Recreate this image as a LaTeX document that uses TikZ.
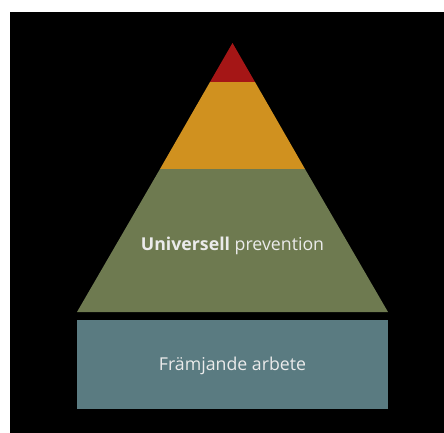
\documentclass[tikz,border=0pt]{standalone}
\usepackage{fontspec}
\setmainfont{Open Sans}
\usepackage{xcolor}
\usepackage{tikz}
\usetikzlibrary{positioning}

\definecolor{toppred}{HTML}{A51616}
\definecolor{midorange}{HTML}{D0911F}
\definecolor{baseolive}{HTML}{6E7A50}
\definecolor{plinthblue}{HTML}{5A7B81}

\begin{document}
\begin{tikzpicture}[
    x=0.75pt, y=-0.75pt,
    layer/.style={draw=none},
    label/.style={
        text=white!92!black,
        font=\fontsize{13.3}{16}\selectfont,
        inner sep=0pt
    }
]

% Frame 
\useasboundingbox (0,0) rectangle (444,433);
\fill[white] (0,0) rectangle (444,433);
\fill[black] (10,12) rectangle (444,433);

% Pyramid layers 
\coordinate (apex) at (232.5,43);
\coordinate (baseleft) at (77,312);
\coordinate (baseright) at (388,312);
\fill[layer, toppred] (apex) -- (210,82) -- (255,82) -- cycle;
\fill[layer, midorange] (210,82) -- (255,82) -- (305,169) -- (160,169) -- cycle;
\fill[layer, baseolive] (160,169) -- (305,169) -- (baseright) -- (baseleft) -- cycle;

% Foundation block 
\fill[layer, plinthblue] (77,320) rectangle (388,409);

% Texts 
\node[label] (universal) at (232.5,246) {\textbf{Universell} prevention};
\node[label] (promotion) at (232.5,366) {Främjande arbete};

\end{tikzpicture}
\end{document}
